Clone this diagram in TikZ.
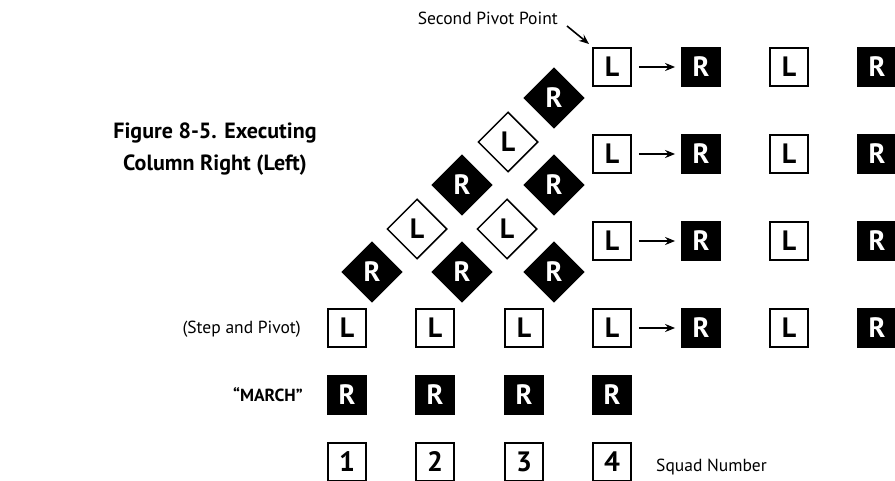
\documentclass[tikz,border=0pt]{standalone}
\usepackage{fontspec}
\setmainfont{PT Sans}
\usetikzlibrary{shapes.geometric, arrows.meta}

\begin{document}
\begin{tikzpicture}[x=1pt, y=-1pt, line width=1.8pt,
    lbox/.style={draw, fill=white, minimum size=38pt, inner sep=0pt, font=\fontsize{28}{28}\selectfont\bfseries},
    rbox/.style={fill=black, text=white, minimum size=40pt, inner sep=0pt, font=\fontsize{28}{28}\selectfont\bfseries},
    ldia/.style={diamond, draw, fill=white, minimum size=60pt, inner sep=0pt, line width=1.5pt, font=\fontsize{28}{28}\selectfont\bfseries},
    rdia/.style={diamond, fill=black, text=white, minimum size=62pt, inner sep=0pt, font=\fontsize{28}{28}\selectfont\bfseries},
    lbl/.style={font=\fontsize{17.5}{17.5}\selectfont},
    stepto/.style={-{Stealth[length=10pt, width=8pt]}, line width=1.6pt}]
    \useasboundingbox (0,0) rectangle (895,481);
    % Title
    \node[align=center, font=\fontsize{22}{32}\selectfont\bfseries] (title) at (215,149) {Figure 8-5. Executing\\Column Right (Left)};
    % Squad numbers
    \node[lbox] (n1) at (347,462) {1};
    \node[lbox] (n2) at (435,462) {2};
    \node[lbox] (n3) at (524,462) {3};
    \node[lbox] (n4) at (612,462) {4};
    \node[lbl, anchor=west] (squad) at (652,467) {Squad Number};
    % March
    \node[rbox] (m1) at (347,395) {R};
    \node[rbox] (m2) at (435,395) {R};
    \node[rbox] (m3) at (524,395) {R};
    \node[rbox] (m4) at (612,395) {R};
    \node[anchor=east, font=\fontsize{17.5}{17.5}\selectfont\bfseries] (march) at (307,395) {“MARCH”};
    % Step and pivot
    \node[lbox] (s1) at (347,328) {L};
    \node[lbox] (s2) at (435,328) {L};
    \node[lbox] (s3) at (524,328) {L};
    \node[lbox] (s4) at (612,328) {L};
    \node[rbox] (s5) at (701,328) {R};
    \node[lbox] (s6) at (789,328) {L};
    \node[rbox] (s7) at (877,328) {R};
    \node[lbl, anchor=east] (pivot) at (305,329) {(Step and Pivot)};
    % Wheeling files
    \node[rdia] (d1) at (372,272) {R};
    \node[rdia] (d2) at (462,272) {R};
    \node[rdia] (d3) at (554,272) {R};
    \node[ldia] (d4) at (417,229) {L};
    \node[ldia] (d5) at (507,229) {L};
    \node[rdia] (d6) at (462,185) {R};
    \node[rdia] (d7) at (554,185) {R};
    \node[ldia] (d8) at (508,142) {L};
    \node[rdia] (d9) at (554,98) {R};
    % Rows after the turn
    \node[lbox] (c1) at (612,241) {L};
    \node[rbox] (c2) at (701,241) {R};
    \node[lbox] (c3) at (789,241) {L};
    \node[rbox] (c4) at (877,241) {R};
    \node[lbox] (b1) at (612,154) {L};
    \node[rbox] (b2) at (701,154) {R};
    \node[lbox] (b3) at (789,154) {L};
    \node[rbox] (b4) at (877,154) {R};
    \node[lbox] (a1) at (612,67) {L};
    \node[rbox] (a2) at (701,67) {R};
    \node[lbox] (a3) at (789,67) {L};
    \node[rbox] (a4) at (877,67) {R};
    % Steps forward
    \draw[stepto, shorten <=7pt, shorten >=5pt] (s4) -- (s5);
    \draw[stepto, shorten <=7pt, shorten >=5pt] (c1) -- (c2);
    \draw[stepto, shorten <=7pt, shorten >=5pt] (b1) -- (b2);
    \draw[stepto, shorten <=7pt, shorten >=5pt] (a1) -- (a2);
    % Second pivot point
    \node[lbl, anchor=east] (second) at (562,18) {Second Pivot Point};
    \coordinate (spp) at (589,44);
    \draw[stepto] (second.east) ++(5,8) -- (spp);
\end{tikzpicture}
\end{document}
